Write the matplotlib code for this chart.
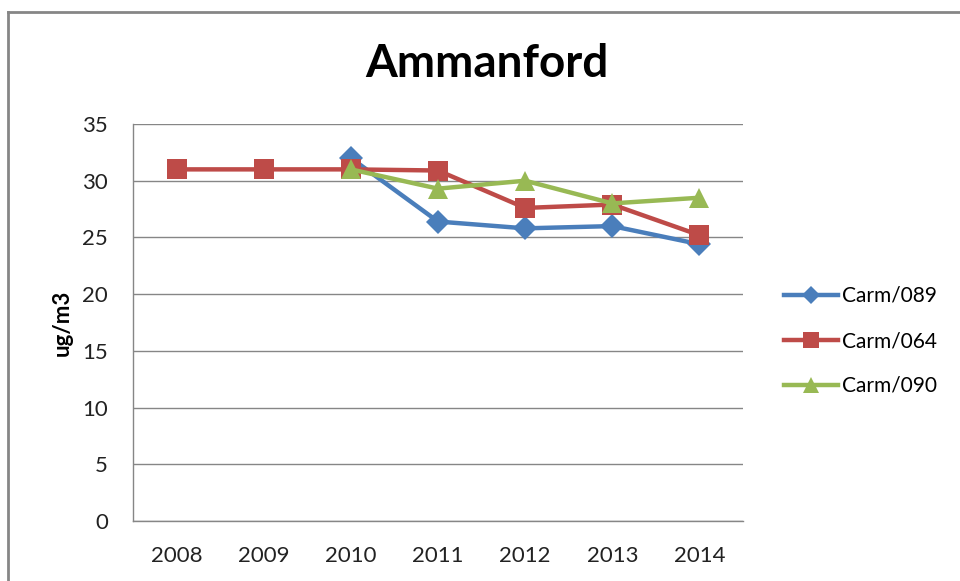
import numpy as np
import matplotlib
matplotlib.use('Agg')
import matplotlib.pyplot as plt
from matplotlib.lines import Line2D

# データ
years = ['2008', '2009', '2010', '2011', '2012', '2013', '2014']
carm_089 = [np.nan, np.nan, 32.0, 26.4, 25.8, 26.0, 24.4]
carm_064 = [31.0, 31.0, 31.0, 30.9, 27.6, 27.9, 25.2]
carm_090 = [np.nan, np.nan, 31.0, 29.3, 30.0, 28.0, 28.5]
series_names = ['Carm/089', 'Carm/064', 'Carm/090']
y_ticks = [0, 5, 10, 15, 20, 25, 30, 35]

plt.rcParams['font.family'] = ['Lato', 'DejaVu Sans']

fig = plt.figure(figsize=(9.6, 5.81), dpi=100)
ax = fig.add_axes([133 / 960, 1 - 521 / 581, 610 / 960, 397 / 581])

x = np.arange(len(years))
colors = ['#4A7EBB', '#BE4B48', '#98B954']
markers = ['D', 's', '^']
msizes = [12, 14, 14]
for vals, name, c, m, ms in zip([carm_089, carm_064, carm_090], series_names,
                                colors, markers, msizes):
    ax.plot(x, vals, color=c, lw=3.2, marker=m, markersize=ms,
            markeredgewidth=0, label=name, clip_on=False)

ax.set_xlim(-0.5, len(years) - 0.5)
ax.set_ylim(0, 35)
ax.set_xticks(x)
ax.set_xticklabels(years)
ax.set_yticks(y_ticks)
ax.tick_params(length=0, labelsize=16, colors='#222222')
ax.tick_params(axis='x', pad=18)
ax.tick_params(axis='y', pad=18)

# グリッド線と軸
ax.yaxis.grid(True, color='#868686', lw=1)
ax.set_axisbelow(True)
for s in ['top', 'right']:
    ax.spines[s].set_visible(False)
for s in ['left', 'bottom']:
    ax.spines[s].set_color('#868686')
    ax.spines[s].set_linewidth(1)

ax.set_ylabel('ug/m3', fontsize=16, fontweight='bold', labelpad=7)
fig.text(487 / 960, 1 - 64 / 581, 'Ammanford', fontsize=33, fontweight='bold',
         ha='center', va='center')

# 凡例
ax.legend(loc='center left', bbox_to_anchor=(765 / 960, 1 - 341 / 581),
          bbox_transform=fig.transFigure, frameon=False, fontsize=15,
          handlelength=2.6, handletextpad=0.2, labelspacing=1.2,
          markerscale=0.8)

# チャート外枠
fig.add_artist(Line2D([8 / 960, 8 / 960], [0, 1 - 12 / 581],
                      transform=fig.transFigure, color='#868686', lw=2))
fig.add_artist(Line2D([8 / 960, 1], [1 - 12 / 581, 1 - 12 / 581],
                      transform=fig.transFigure, color='#868686', lw=2))

fig.savefig('out.png', dpi=100)
